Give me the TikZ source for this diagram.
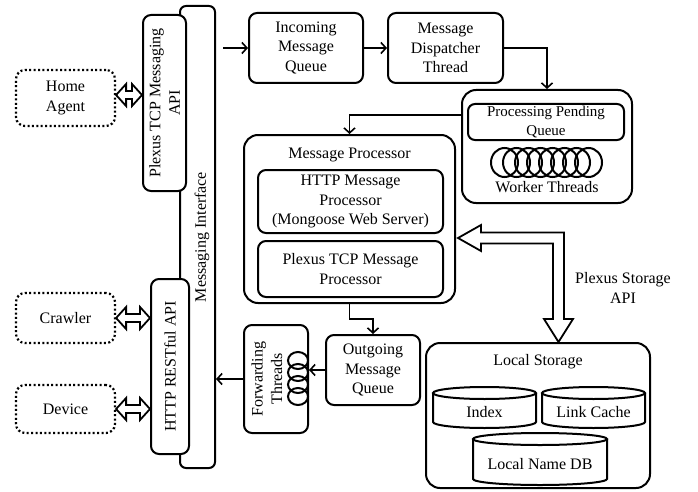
\documentclass[tikz,border=0pt]{standalone}
\usepackage{fontspec}
\setmainfont{Liberation Serif}
\usetikzlibrary{arrows.meta,calc}
\tikzset{
  every node/.style={font=\fontsize{16}{19.5}\selectfont, inner sep=0pt, align=center},
  box/.style={draw, line width=2pt, rounded corners=8pt, fill=white},
  bigbox/.style={box, rounded corners=14pt},
  ext/.style={draw, line width=2.2pt, dash pattern=on 2pt off 2.4pt, rounded corners=9pt},
  conn/.style={line width=1.6pt, -{Straight Barb[length=5pt,width=11pt,line width=1.6pt]}},
  hollow/.style={line width=1.8pt, fill=white, line join=miter},
  coil/.style={line width=2pt},
}
\newcommand\twinarrow[2]{%
  \draw[hollow] (#1) -- ($(#1)+(10,-11)$) -- ($(#1)+(10,-4)$) -- ($(#2)+(-10,-4)$)
    -- ($(#2)+(-10,-11)$) -- (#2) -- ($(#2)+(-10,11)$) -- ($(#2)+(-10,4)$)
    -- ($(#1)+(10,4)$) -- ($(#1)+(10,11)$) -- cycle;}
\newcommand\drum[4]{% name, half width, top offset, bottom offset
  \draw[line width=2pt] ($(#1.center)+(-#2,#3)$) -- ($(#1.center)+(-#2,#4)$)
    arc[start angle=180, end angle=0, x radius=#2, y radius=6]
    -- ($(#1.center)+(#2,#3)$);
  \draw[line width=2pt] ($(#1.center)+(0,#3)$) ellipse [x radius=#2, y radius=6];}
\begin{document}
\begin{tikzpicture}[x=1pt, y=-1pt]
\useasboundingbox (0,0) rectangle (698,492);

% messaging interface
\node[box, rounded corners=6pt, minimum width=35pt, minimum height=462pt] (bar) at (197.5,237) {};
\node[rotate=90] (mit) at (202,237) {Messaging Interface};
\node[box, rotate=90, minimum width=176pt, minimum height=43pt] (tcp) at (164.5,103) {Plexus TCP Messaging\\API};
\node[box, rotate=90, minimum width=175pt, minimum height=38pt] (rest) at (170,366.5) {HTTP RESTful API};

% external entities
\node[ext, minimum width=99pt, minimum height=56pt] (ha) at (65.5,98) {Home\\Agent};
\node[ext, minimum width=99pt, minimum height=50pt] (crawler) at (65.5,318) {Crawler};
\node[ext, minimum width=99pt, minimum height=48pt] (device) at (65.5,409) {Device};

\coordinate (ha-a) at ($(ha.east)+(0,-3)$);
\coordinate (ha-b) at (tcp.north |- ha-a);
\coordinate (cr-a) at (crawler.east);
\coordinate (cr-b) at (rest.north |- cr-a);
\coordinate (dv-a) at (device.east);
\coordinate (dv-b) at (rest.north |- dv-a);
\twinarrow{ha-a}{ha-b}
\twinarrow{cr-a}{cr-b}
\twinarrow{dv-a}{dv-b}

% queues
\node[box, minimum width=114pt, minimum height=70pt] (inq) at (306,48) {Incoming\\Message\\Queue};
\node[box, minimum width=115pt, minimum height=70pt] (disp) at (445.5,48) {Message\\Dispatcher\\Thread};

% worker group
\node[bigbox, minimum width=170pt, minimum height=113pt] (worker) at (547,146.5) {};
\node[box, rounded corners=7pt, minimum width=156pt, minimum height=36pt,
      font=\fontsize{15}{19}\selectfont] (ppq) at (546,122) {Processing Pending\\Queue};
\foreach \i in {0,...,7}
  \draw[coil] ($(worker.center)+(-42.5+12*\i,16)$) ellipse [x radius=13.5, y radius=14.5];
\node (wt) at (547,187) {Worker Threads};

% message processor
\node[bigbox, minimum width=211pt, minimum height=168pt] (mp) at (349.5,219) {};
\node (mpt) at (349.5,155) {Message Processor};
\node[box, minimum width=185pt, minimum height=63pt] (http) at (350.5,201.5) {HTTP Message\\Processor\\(Mongoose Web Server)};
\node[box, minimum width=185pt, minimum height=56pt] (ptcp) at (350.5,269) {Plexus TCP Message\\Processor};

% outgoing
\node[box, minimum width=94pt, minimum height=70pt] (outq) at (373,370) {Outgoing\\Message\\Queue};
\node[box, minimum width=64pt, minimum height=108pt] (fwd) at (276,379) {};
\node[rotate=90] (fwdt) at (267,379) {Forwarding\\Threads};
\foreach \dy in {-18.5,-6.5,5.5,17.5}
  \draw[coil] ($(fwd.center)+(22,\dy)$) ellipse [x radius=10, y radius=8.5];

% local storage
\node[bigbox, minimum width=224pt, minimum height=145pt] (ls) at (538,415.5) {};
\node (lst) at (538,362) {Local Storage};
\node (idx) at (484.5,412) {Index};
\node (lc) at (593.5,412) {Link Cache};
\node (lndb) at (540,464) {Local Name DB};
\drum{idx}{51.5}{-19}{10}
\drum{lc}{51.5}{-19}{10}
\drum{lndb}{67}{-25}{15}

% connectors
\coordinate (barout) at ($(bar.east |- inq.west)+(7,0)$);
\draw[conn] (barout) -- (inq.west);
\draw[conn] (inq.east) -- (disp.west);
\draw[conn] (disp.east) -| (worker.north);
\draw[conn] ($(worker.west)+(0,-31.5)$) -| (mp.north);
\draw[conn] (mp.south) -- ++(0,15) -| (outq.north);
\draw[conn] (outq.west) -- (outq.west -| fwd.east);
\draw[conn] (fwd.west) -- (fwd.west -| bar.east);

% storage API arrow
\coordinate (sa) at ($(mp.east)+(2,19)$);
\coordinate (sb) at ($(ls.north)+(20.5,0)$);
\coordinate (sc) at (sb |- sa);
\draw[hollow] (sa) -- ($(sa)+(23,-13)$) -- ($(sa)+(23,-5.5)$) -- ($(sc)+(5.5,-5.5)$)
  -- ($(sb)+(5.5,-23)$) -- ($(sb)+(14.5,-23)$) -- (sb) -- ($(sb)+(-14.5,-23)$)
  -- ($(sb)+(-5.5,-23)$) -- ($(sc)+(-5.5,5.5)$) -- ($(sa)+(23,5.5)$) -- ($(sa)+(23,13)$) -- cycle;
\node (api) at (623,288) {Plexus Storage\\API};
\end{tikzpicture}
\end{document}
